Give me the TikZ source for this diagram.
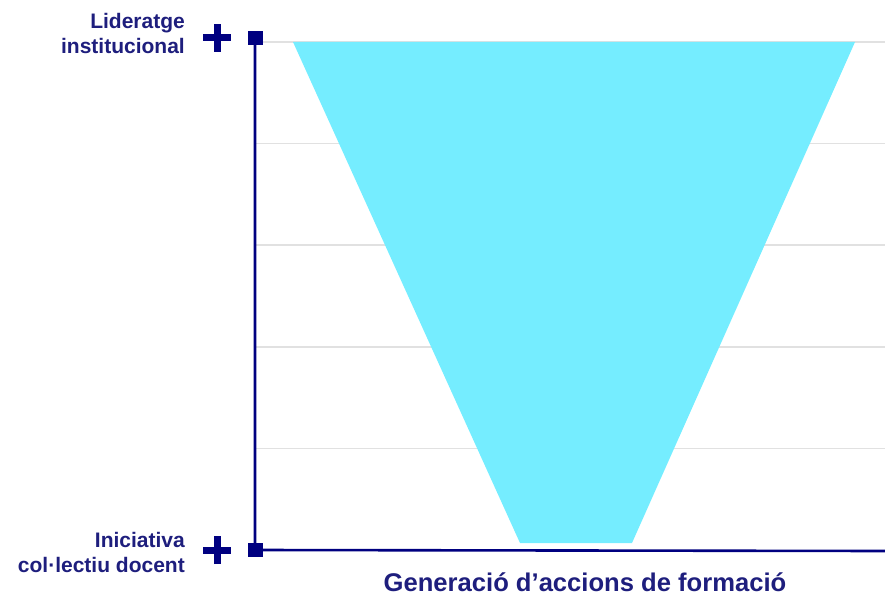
\documentclass[tikz,border=0pt]{standalone}
\usepackage{fontspec}
\setmainfont{Liberation Sans}
\definecolor{axisblue}{RGB}{0,0,128}
\definecolor{labelblue}{RGB}{30,30,125}
\definecolor{funnelcyan}{RGB}{117,237,255}
\definecolor{gridgray}{RGB}{225,225,225}
\tikzset{
  marker/.style={fill=axisblue,inner sep=0pt,minimum width=15pt,minimum height=14pt},
  endlabel/.style={anchor=east,align=right,text=labelblue,font=\bfseries\fontsize{21}{25}\selectfont,inner sep=0pt},
  plusmark/.style={line width=7pt,draw=axisblue}
}
\begin{document}
\begin{tikzpicture}[x=1pt,y=1pt]
\useasboundingbox (0,0) rectangle (885,595);
\foreach \y in {553,451.4,349.8,248.2,146.6} % edit here for the grid lines
\draw[gridgray,line width=1.6pt] (255,\y) -- (885,\y);

\fill[funnelcyan] (293,553) -- (855,553) -- (632,52) -- (520,52) -- cycle;

\node[marker] (top) at (255,557) {};
\node[marker] (bottom) at (255,45) {};
\coordinate (xend) at (885,44);
\draw[axisblue,line width=2.6pt] (top.center) -- (bottom.center) -- (xend); %edit here for the axis

\node[endlabel] (lead) at (185,562) {Lideratge\\institucional};
\node[endlabel] (init) at (185,43) {Iniciativa\\col·lectiu docent};
\foreach \p in {557,45} % edit here for the plus signs
\draw[plusmark] (203,\p) -- (231,\p) (217,\p-14) -- (217,\p+14);

\node[text=labelblue,font=\bfseries\fontsize{25.6}{30}\selectfont,inner sep=0pt] (xtitle) at (585,13) {Generació d’accions de formació};
\end{tikzpicture}
\end{document}
